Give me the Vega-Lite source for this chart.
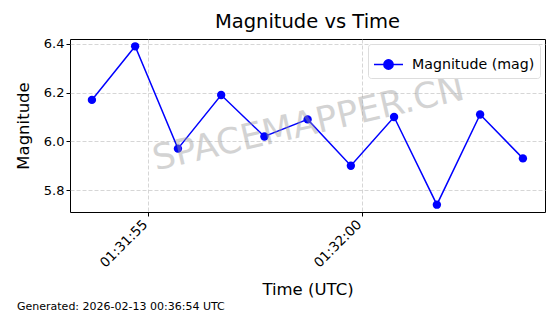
{
  "$schema": "https://vega.github.io/schema/vega-lite/v6.json",
  "width": 475,
  "height": 173,
  "autosize": {"type": "none"},
  "padding": {"left": 70, "top": 39, "right": 15, "bottom": 102},
  "background": "white",
  "title": {"text": "Magnitude vs Time", "fontSize": 19.5, "fontWeight": "normal", "font": "DejaVu Sans", "color": "black", "offset": 5},
  "config": {
    "font": "DejaVu Sans",
    "view": {"stroke": "black", "strokeWidth": 1},
    "axis": {
      "domain": false,
      "grid": true,
      "gridColor": "#cccccc",
      "gridDash": [4, 2],
      "gridWidth": 0.8,
      "tickColor": "black",
      "tickSize": 4,
      "labelColor": "black",
      "labelFont": "DejaVu Sans",
      "labelFontSize": 13,
      "titleFont": "DejaVu Sans",
      "titleFontWeight": "normal",
      "titleColor": "black",
      "titleFontSize": 16.5
    },
    "legend": {
      "orient": "top-right",
      "offset": 5,
      "fillColor": "white",
      "strokeColor": "#dddddd",
      "cornerRadius": 3,
      "padding": 5,
      "labelFont": "DejaVu Sans",
      "labelFontSize": 14.2,
      "labelColor": "black",
      "labelOffset": 8,
      "title": null
    }
  },
  "layer": [
    {
      "data": {"values": [
        {"time": "2026-02-13T01:31:53.690Z", "mag": 6.17, "series": "Magnitude (mag)"},
        {"time": "2026-02-13T01:31:54.700Z", "mag": 6.39, "series": "Magnitude (mag)"},
        {"time": "2026-02-13T01:31:55.700Z", "mag": 5.97, "series": "Magnitude (mag)"},
        {"time": "2026-02-13T01:31:56.710Z", "mag": 6.19, "series": "Magnitude (mag)"},
        {"time": "2026-02-13T01:31:57.720Z", "mag": 6.02, "series": "Magnitude (mag)"},
        {"time": "2026-02-13T01:31:58.730Z", "mag": 6.09, "series": "Magnitude (mag)"},
        {"time": "2026-02-13T01:31:59.740Z", "mag": 5.90, "series": "Magnitude (mag)"},
        {"time": "2026-02-13T01:32:00.750Z", "mag": 6.10, "series": "Magnitude (mag)"},
        {"time": "2026-02-13T01:32:01.750Z", "mag": 5.74, "series": "Magnitude (mag)"},
        {"time": "2026-02-13T01:32:02.760Z", "mag": 6.11, "series": "Magnitude (mag)"},
        {"time": "2026-02-13T01:32:03.760Z", "mag": 5.93, "series": "Magnitude (mag)"}
      ]},
      "mark": {"type": "line", "strokeWidth": 1.5, "point": {"filled": true, "size": 70, "opacity": 1}},
      "encoding": {
        "x": {
          "field": "time", "type": "temporal",
          "scale": {"type": "utc", "domain": ["2026-02-13T01:31:53.178Z", "2026-02-13T01:32:04.276Z"]},
          "axis": {
            "title": "Time (UTC)",
            "labelExpr": "utcFormat(datum.value, '%H:%M:%S')",
            "values": [
              {"year": 2026, "month": 2, "date": 13, "hours": 1, "minutes": 31, "seconds": 55, "utc": true},
              {"year": 2026, "month": 2, "date": 13, "hours": 1, "minutes": 32, "seconds": 0, "utc": true}
            ],
            "labelAngle": -45,
            "labelAlign": "right",
            "labelBaseline": "middle",
            "labelPadding": 6,
            "labelOffset": -3,
            "labelFontSize": 13.5,
            "labelFlush": false,
            "labelOverlap": false,
            "titlePadding": 12
          }
        },
        "y": {
          "field": "mag", "type": "quantitative",
          "scale": {"domain": [5.71, 6.42], "nice": false, "zero": false},
          "axis": {"title": "Magnitude", "values": [5.8, 6.0, 6.2, 6.4], "format": ".1f", "titlePadding": 12}
        },
        "color": {
          "field": "series", "type": "nominal",
          "scale": {"range": ["#0000ff"]},
          "legend": {
            "symbolType": "M-1,0L1,0M0.32,0A0.32,0.32,0,1,1,-0.32,0A0.32,0.32,0,1,1,0.32,0Z",
            "symbolSize": 841,
            "symbolFillColor": "#0000ff",
            "symbolStrokeColor": "#0000ff",
            "symbolStrokeWidth": 1.5,
            "symbolOpacity": 1
          }
        }
      }
    },
    {
      "data": {"values": [{"time": "2026-02-13T01:31:58.750Z", "mag": 6.071, "label": "SPACEMAPPER.CN"}]},
      "mark": {"type": "text", "fontSize": 35.5, "font": "DejaVu Sans", "angle": -13, "color": "#999999", "opacity": 0.42, "align": "center", "baseline": "middle"},
      "encoding": {
        "x": {"field": "time", "type": "temporal"},
        "y": {"field": "mag", "type": "quantitative"},
        "text": {"field": "label"}
      }
    },
    {
      "data": {"values": [{"time": "2026-02-13T01:31:51.940Z", "mag": 5.32, "label": "Generated: 2026-02-13 00:36:54 UTC"}]},
      "mark": {"type": "text", "fontSize": 11, "font": "DejaVu Sans", "color": "black", "align": "left", "baseline": "middle"},
      "encoding": {
        "x": {"field": "time", "type": "temporal"},
        "y": {"field": "mag", "type": "quantitative"},
        "text": {"field": "label"}
      }
    }
  ]
}
